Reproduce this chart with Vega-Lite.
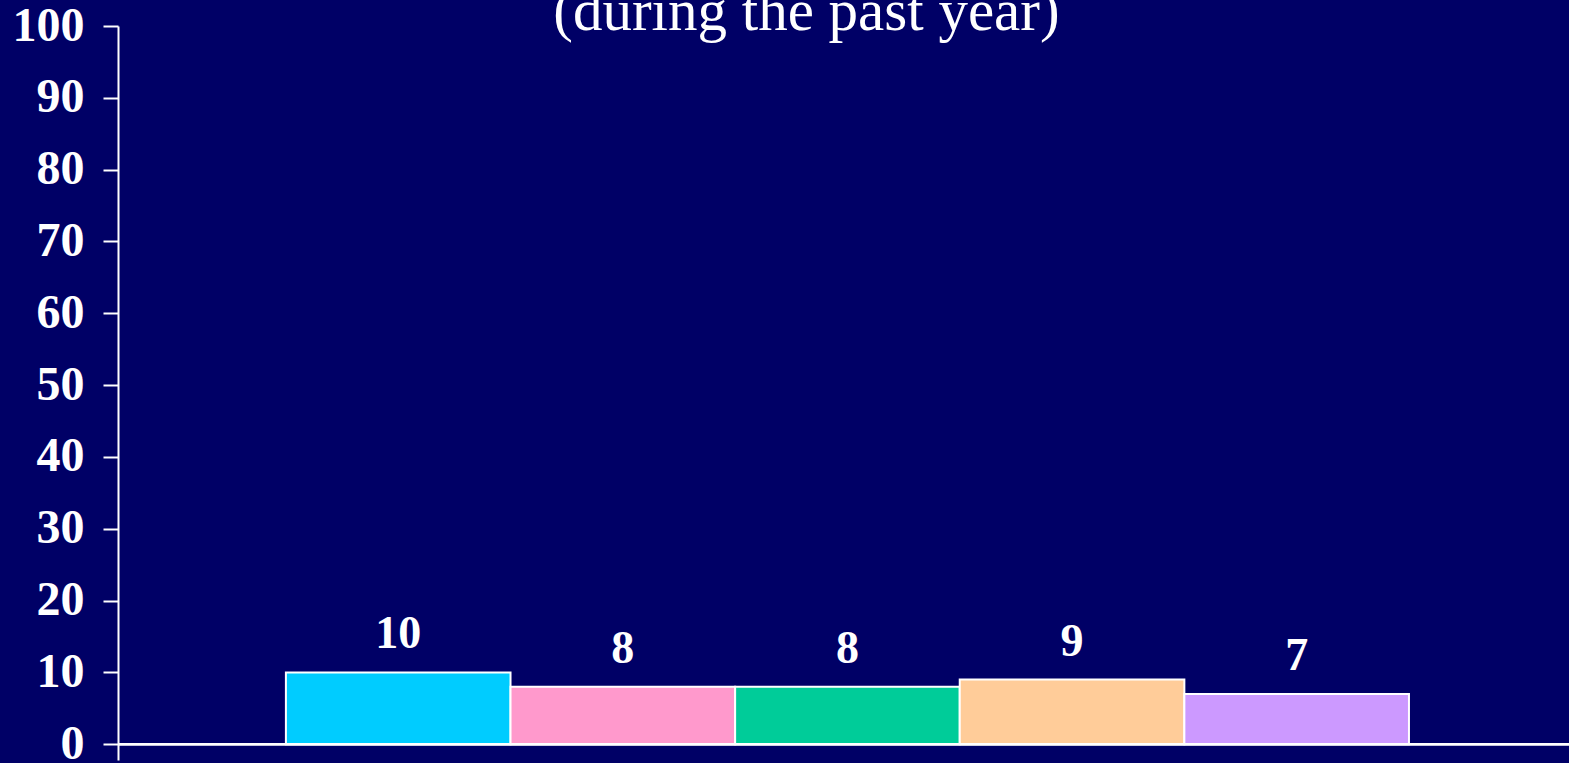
{
  "$schema": "https://vega.github.io/schema/vega-lite/v6.json",
  "autosize": "none",
  "width": 1451,
  "height": 734,
  "padding": {"left": 118, "top": 26, "right": 0, "bottom": 3},
  "background": "#000066",
  "config": {"view": {"stroke": null}},
  "data": {
    "values": [
      {"group": "A", "value": 10},
      {"group": "B", "value": 8},
      {"group": "C", "value": 8},
      {"group": "D", "value": 9},
      {"group": "E", "value": 7}
    ]
  },
  "layer": [
    {
      "mark": {"type": "bar", "stroke": "white", "strokeWidth": 2},
      "encoding": {
        "x": {
          "field": "group", "type": "nominal", "sort": null,
          "scale": {"paddingInner": 0, "paddingOuter": 0.73, "align": 0.512},
          "axis": null
        },
        "y": {
          "field": "value", "type": "quantitative",
          "scale": {"domain": [-2.2, 100], "nice": false, "zero": false},
          "axis": {
            "values": [0, 10, 20, 30, 40, 50, 60, 70, 80, 90, 100],
            "grid": false,
            "domainColor": "white",
            "domainWidth": 2,
            "tickColor": "white",
            "tickWidth": 2,
            "tickSize": 15,
            "labelPadding": 19,
            "labelFont": "Liberation Serif",
            "labelFontSize": 48,
            "labelFontWeight": "bold",
            "labelColor": "white",
            "labelBaseline": "middle",
            "title": null
          }
        },
        "y2": {"datum": 0},
        "color": {
          "field": "group", "type": "nominal", "sort": null,
          "scale": {"range": ["#00CCFF", "#FF99CC", "#00CC99", "#FFCC99", "#CC99FF"]},
          "legend": null
        }
      }
    },
    {
      "mark": {
        "type": "text",
        "font": "Liberation Serif",
        "fontSize": 46,
        "fontWeight": "bold",
        "color": "white",
        "baseline": "alphabetic",
        "dy": -24
      },
      "encoding": {
        "x": {"field": "group", "type": "nominal", "sort": null},
        "y": {"field": "value", "type": "quantitative"},
        "text": {"field": "value", "type": "quantitative"}
      }
    },
    {
      "data": {"values": [{"title": "(during the past year)", "group": "C", "pos": 100}]},
      "mark": {
        "type": "text",
        "font": "Liberation Serif",
        "fontSize": 59,
        "fontWeight": "normal",
        "color": "white",
        "baseline": "alphabetic",
        "align": "center",
        "dx": -41,
        "dy": 4
      },
      "encoding": {
        "x": {"field": "group", "type": "nominal", "sort": null},
        "y": {"field": "pos", "type": "quantitative"},
        "text": {"field": "title"}
      }
    },
    {
      "mark": {"type": "rule", "color": "white", "strokeWidth": 2},
      "encoding": {"y": {"datum": 0}}
    }
  ]
}
